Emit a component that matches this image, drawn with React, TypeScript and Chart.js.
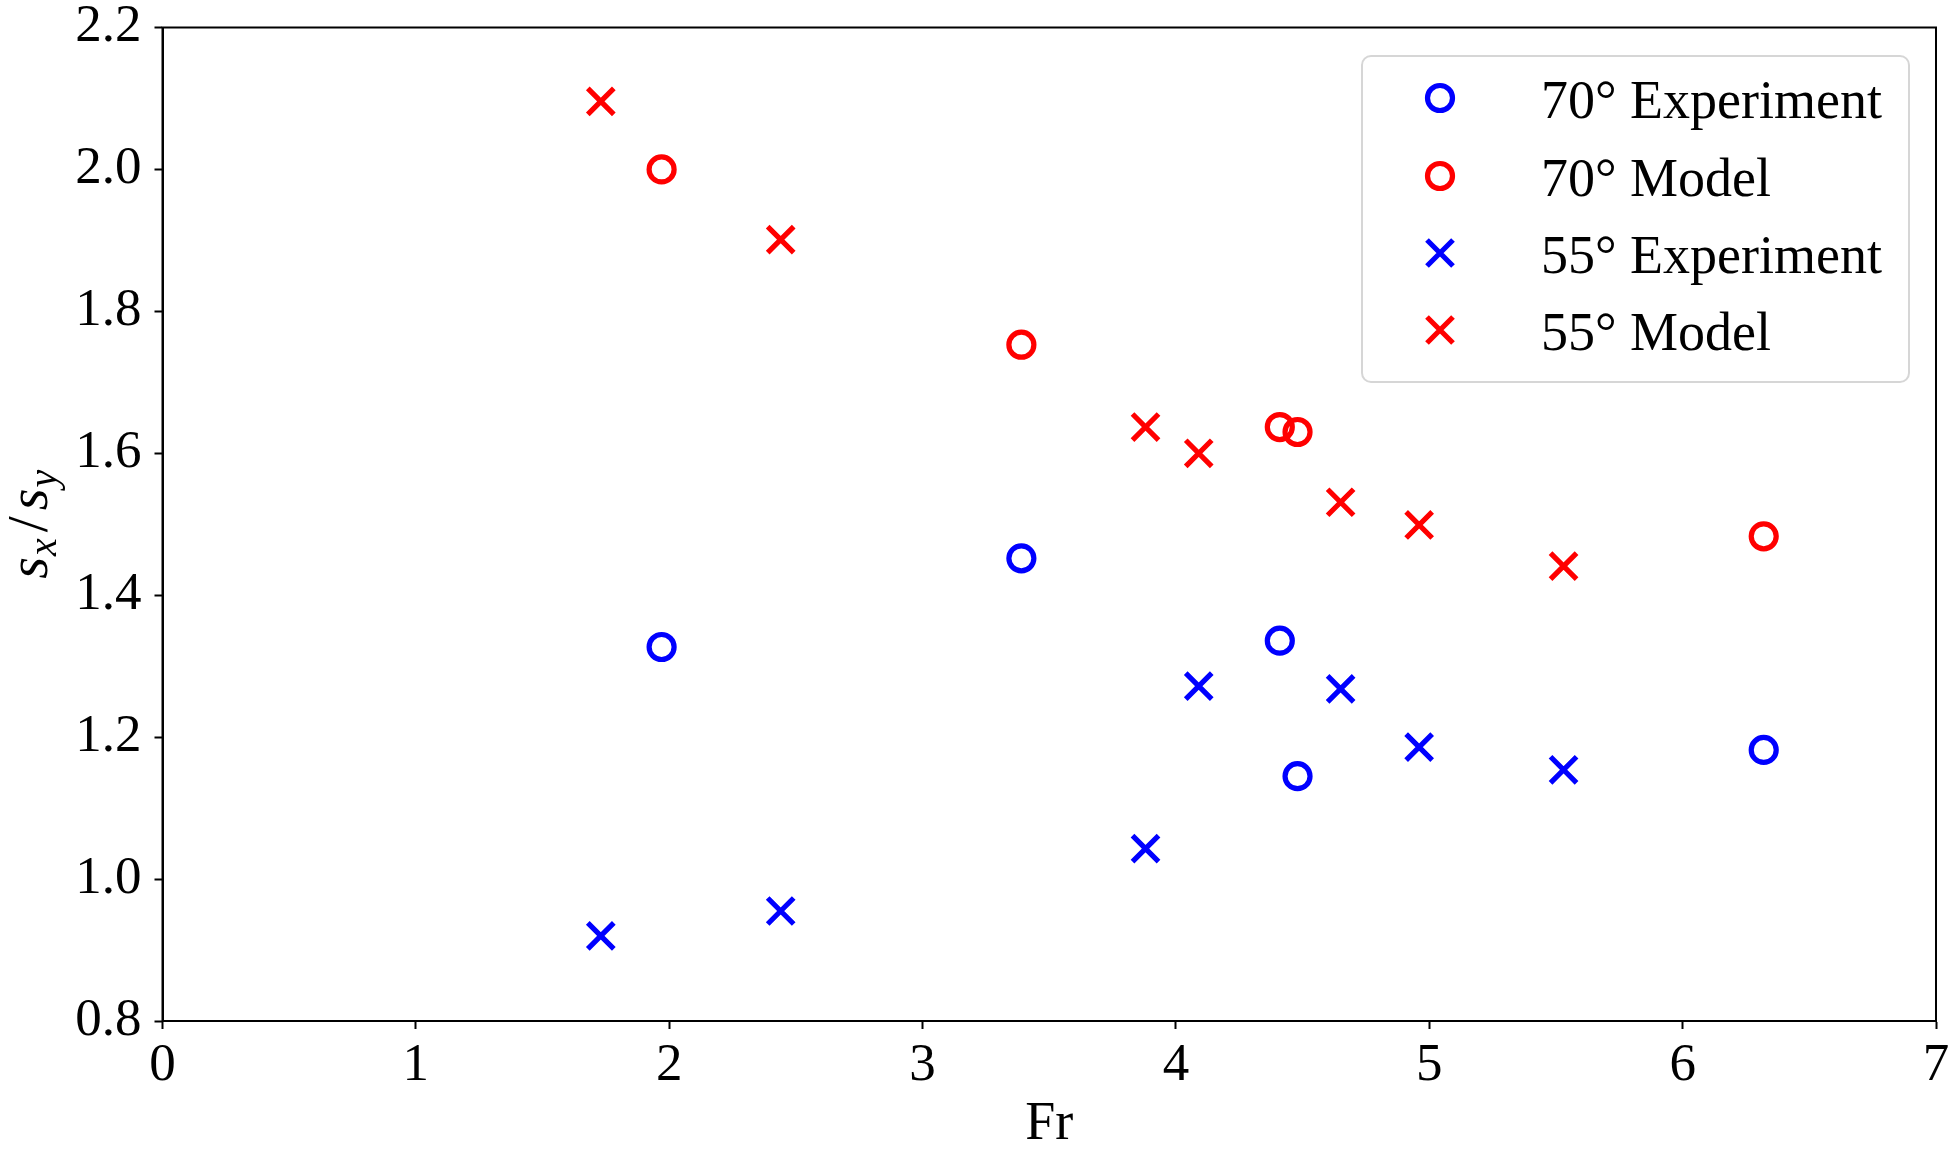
import React, { useEffect, useRef } from "react";
import { Chart, registerables } from "chart.js";

Chart.register(...registerables);

// ---- data ----
const fr70: number[] = [1.97, 3.39, 4.41, 4.48, 6.32];
const exp70: number[] = [1.327, 1.452, 1.336, 1.145, 1.182];
const model70: number[] = [2.0, 1.753, 1.637, 1.630, 1.483];

const fr55: number[] = [1.73, 2.44, 3.88, 4.09, 4.65, 4.96, 5.53];
const exp55: number[] = [0.92, 0.955, 1.043, 1.272, 1.268, 1.186, 1.154];
const model55: number[] = [2.096, 1.901, 1.637, 1.6, 1.531, 1.499, 1.441];

const seriesLabels: string[] = ["70° Experiment", "70° Model", "55° Experiment", "55° Model"];
const xTitle = "Fr";

const BLUE = "#0000ff";
const RED = "#ff0000";
const FONT = "'Liberation Serif', 'DejaVu Serif', serif";
const MARK_W = 5.2;

const toPts = (xs: number[], ys: number[]) => xs.map((x, i) => ({ x, y: ys[i] }));

const decorPlugin = {
  id: "decor",
  afterDraw(chart: any) {
    const ctx: CanvasRenderingContext2D = chart.ctx;
    const ca = chart.chartArea;
    ctx.save();
    // frame (top/right spines)
    ctx.strokeStyle = "#000";
    ctx.lineWidth = 2;
    ctx.strokeRect(ca.left, ca.top, ca.right - ca.left, ca.bottom - ca.top);

    // x title
    ctx.fillStyle = "#000";
    ctx.font = `54px ${FONT}`;
    ctx.textAlign = "center";
    ctx.textBaseline = "alphabetic";
    ctx.fillText(xTitle, (ca.left + ca.right) / 2, 1139);

    // y title: s_x / s_y
    const parts = [
      { t: "s", f: `italic 56px ${FONT}`, dy: 0, gap: 1 },
      { t: "x", f: `italic 40px ${FONT}`, dy: 9, gap: 6 },
      { t: "/", f: `58px ${FONT}`, dy: 0, gap: 6 },
      { t: "s", f: `italic 56px ${FONT}`, dy: 0, gap: 1 },
      { t: "y", f: `italic 40px ${FONT}`, dy: 9, gap: 0 },
    ];
    let total = 0;
    const widths = parts.map((p) => {
      ctx.font = p.f;
      const w = ctx.measureText(p.t).width;
      total += w + p.gap;
      return w;
    });
    ctx.translate(47, (ca.top + ca.bottom) / 2);
    ctx.rotate(-Math.PI / 2);
    ctx.textAlign = "left";
    let cx = -total / 2;
    parts.forEach((p, i) => {
      ctx.font = p.f;
      ctx.fillText(p.t, cx, p.dy);
      cx += widths[i] + p.gap;
    });
    ctx.setTransform(1, 0, 0, 1, 0, 0);

    // legend
    const bx = 1362, by = 56, bw = 547, bh = 326, r = 9;
    ctx.beginPath();
    ctx.moveTo(bx + r, by);
    ctx.lineTo(bx + bw - r, by);
    ctx.arcTo(bx + bw, by, bx + bw, by + r, r);
    ctx.lineTo(bx + bw, by + bh - r);
    ctx.arcTo(bx + bw, by + bh, bx + bw - r, by + bh, r);
    ctx.lineTo(bx + r, by + bh);
    ctx.arcTo(bx, by + bh, bx, by + bh - r, r);
    ctx.lineTo(bx, by + r);
    ctx.arcTo(bx, by, bx + r, by, r);
    ctx.closePath();
    ctx.fillStyle = "rgba(255,255,255,0.8)";
    ctx.fill();
    ctx.strokeStyle = "rgba(204,204,204,0.8)";
    ctx.lineWidth = 2;
    ctx.stroke();

    const rowY = [98, 176, 253, 330];
    const colors = [BLUE, RED, BLUE, RED];
    const styles = ["circle", "circle", "cross", "cross"];
    seriesLabels.forEach((lab, i) => {
      const y = rowY[i];
      const mx = 1440;
      ctx.strokeStyle = colors[i];
      ctx.lineWidth = MARK_W;
      ctx.beginPath();
      if (styles[i] === "circle") {
        ctx.arc(mx, y, 12.5, 0, Math.PI * 2);
      } else {
        const o = 13;
        ctx.moveTo(mx - o, y - o);
        ctx.lineTo(mx + o, y + o);
        ctx.moveTo(mx - o, y + o);
        ctx.lineTo(mx + o, y - o);
      }
      ctx.stroke();
      ctx.fillStyle = "#000";
      ctx.font = `54px ${FONT}`;
      ctx.textAlign = "left";
      ctx.textBaseline = "alphabetic";
      ctx.fillText(lab, 1541, y + 20);
    });
    ctx.restore();
  },
};

const zeroPad = (s: any) => {
  s.paddingTop = 0;
  s.paddingBottom = 0;
  s.paddingLeft = 0;
  s.paddingRight = 0;
};

export default function App() {
  const ref = useRef<HTMLCanvasElement | null>(null);
  useEffect(() => {
    if (!ref.current) return;
    const circle = {
      pointStyle: "circle",
      pointRadius: 12.5,
      pointHoverRadius: 12.5,
      borderWidth: MARK_W,
      backgroundColor: "rgba(0,0,0,0)",
      showLine: false,
    };
    const cross = {
      pointStyle: "crossRot",
      pointRadius: 18.4,
      pointHoverRadius: 18.4,
      borderWidth: MARK_W,
      backgroundColor: "rgba(0,0,0,0)",
      showLine: false,
    };
    const chart = new Chart(ref.current, {
      type: "scatter",
      data: {
        datasets: [
          { label: seriesLabels[0], data: toPts(fr70, exp70), borderColor: BLUE, ...circle },
          { label: seriesLabels[1], data: toPts(fr70, model70), borderColor: RED, ...circle },
          { label: seriesLabels[2], data: toPts(fr55, exp55), borderColor: BLUE, ...cross },
          { label: seriesLabels[3], data: toPts(fr55, model55), borderColor: RED, ...cross },
        ] as any,
      },
      options: {
        responsive: false,
        animation: false,
        layout: { padding: { top: 27.5, right: 24, left: 0, bottom: 0 } },
        plugins: { legend: { display: false }, tooltip: { enabled: false } },
        scales: {
          x: {
            type: "linear",
            min: 0,
            max: 7,
            afterFit: (s: any) => {
              s.height = 139;
              zeroPad(s);
            },
            ticks: {
              stepSize: 1,
              color: "#000",
              padding: 5,
              font: { family: FONT, size: 53 },
              callback: (v: any) => String(v),
            },
            grid: {
              display: true,
              drawOnChartArea: false,
              drawTicks: true,
              tickLength: 8,
              tickWidth: 2,
              tickColor: "#000",
              color: "#000",
            },
            border: { display: true, color: "#000", width: 2 },
          },
          y: {
            type: "linear",
            min: 0.8,
            max: 2.2,
            afterFit: (s: any) => {
              s.width = 162.5;
              zeroPad(s);
            },
            ticks: {
              stepSize: 0.2,
              color: "#000",
              padding: 13,
              font: { family: FONT, size: 53 },
              callback: (v: any) => Number(v).toFixed(1),
            },
            grid: {
              display: true,
              drawOnChartArea: false,
              drawTicks: true,
              tickLength: 8,
              tickWidth: 2,
              tickColor: "#000",
              color: "#000",
            },
            border: { display: true, color: "#000", width: 2 },
          },
        },
      } as any,
      plugins: [decorPlugin],
    });
    return () => chart.destroy();
  }, []);
  return (
    <div style={{ position: "absolute", left: 0, top: 0, width: 1960, height: 1160, background: "#fff" }}>
      <canvas ref={ref} width={1960} height={1160} style={{ display: "block", width: 1960, height: 1160 }} />
    </div>
  );
}
